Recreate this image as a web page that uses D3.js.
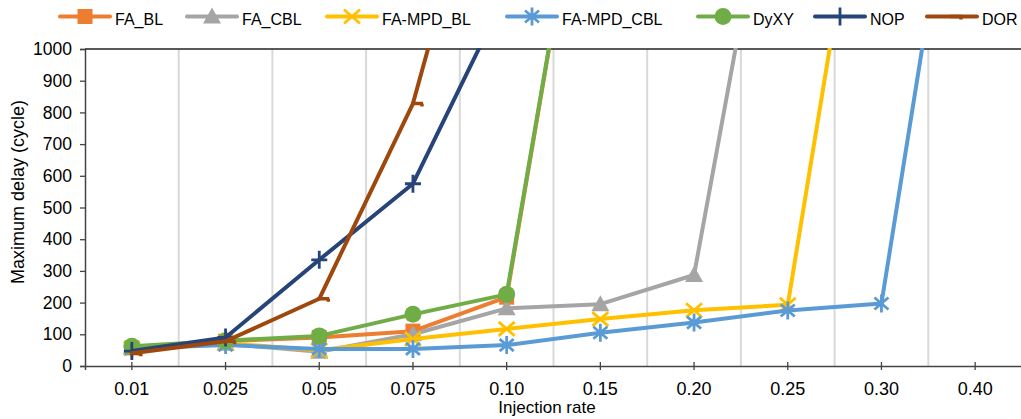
<!DOCTYPE html>
<html>
<head>
<meta charset="utf-8">
<script src="https://cdn.jsdelivr.net/npm/d3@7"></script>
<style>
body{margin:0;background:#fff;}
svg{font-family:"Liberation Sans",Arial,sans-serif;}
</style>
</head>
<body>
<svg id="chart" width="1021" height="419"></svg>
<script>
// categories on the x axis
var rates=["0.01","0.025","0.05","0.075","0.10","0.15","0.20","0.25","0.30","0.40"];
var yTicks=[0,100,200,300,400,500,600,700,800,900,1000];

// series values (null = no point)
var faBL=[57,78,90,110,217,1950,null,null,null,null];
var faCBL=[60,70,45,100,182,195,287,1900,null,null];
var faMpdBL=[55,72,50,85,117,148,176,193,2000,null];
var faMpdCBL=[55,66,54,54,66,105,137,175,197,2050];
var dyxy=[62,80,95,163,226,1950,null,null,null,null];
var nop=[47,90,335,575,1180,null,null,null,null,null];
var dor=[40,78,212,828,1900,null,null,null,null,null];

var series=[
	{name:"FA_BL",vals:faBL,color:"#ED7D31",mark:"square"},
	{name:"FA_CBL",vals:faCBL,color:"#A5A5A5",mark:"triangle"},
	{name:"FA-MPD_BL",vals:faMpdBL,color:"#FFC000",mark:"x"},
	{name:"FA-MPD_CBL",vals:faMpdCBL,color:"#5B9BD5",mark:"star"},
	{name:"DyXY",vals:dyxy,color:"#70AD47",mark:"circle"},
	{name:"NOP",vals:nop,color:"#264478",mark:"plus"},
	{name:"DOR",vals:dor,color:"#9E480E",mark:"dash"}
];
var legendX=[60,187,327,507,698,815,927];

var svg=d3.select("#chart");
var pLeft=85,pRight=1022,pTop=49,pBottom=366;

var x=d3.scaleBand().domain(rates).range([pLeft,pRight]);
var y=d3.scaleLinear().domain([0,1000]).range([pBottom,pTop]);
var cx=function(i){return x(rates[i])+x.bandwidth()/2;};

svg.append("defs").append("clipPath").attr("id","plotclip")
	.append("rect").attr("x",pLeft).attr("y",pTop-1).attr("width",pRight-pLeft).attr("height",pBottom-pTop+10);

// vertical gridlines between categories
svg.append("g").selectAll("line").data(rates.slice(1)).enter().append("line")
	.attr("x1",function(d){return x(d);}).attr("x2",function(d){return x(d);})
	.attr("y1",pTop).attr("y2",pBottom)
	.attr("stroke","#D9D9D9").attr("stroke-width",2);

// top border
svg.append("line").attr("x1",pLeft).attr("x2",pRight).attr("y1",pTop).attr("y2",pTop)
	.attr("stroke","#222").attr("stroke-width",1.3);

// y axis
var yAxis=svg.append("g").attr("transform","translate("+pLeft+",0)")
	.call(d3.axisLeft(y).tickValues(yTicks).tickFormat(d3.format("d")).tickSize(5).tickPadding(8));
yAxis.select(".domain").attr("stroke","#444").attr("stroke-width",1.5);
yAxis.selectAll(".tick line").attr("stroke","#444").attr("stroke-width",1.3);
yAxis.selectAll("text").attr("font-size","17.5px").attr("fill","#000").attr("font-family","Liberation Sans, Arial, sans-serif");

// x axis, ticks crossing the line at category centres
var xAxis=svg.append("g").attr("transform","translate(0,"+pBottom+")")
	.call(d3.axisBottom(x).tickSize(4).tickPadding(12));
xAxis.select(".domain").attr("stroke","#444").attr("stroke-width",1.5);
xAxis.selectAll(".tick line").attr("y1",-4).attr("y2",4).attr("stroke","#444").attr("stroke-width",1.3);
xAxis.selectAll("text").attr("font-size","18px").attr("fill","#000").attr("font-family","Liberation Sans, Arial, sans-serif");

// axis titles
svg.append("text").attr("x",547).attr("y",413).attr("text-anchor","middle")
	.attr("font-size","17px").text("Injection rate");
svg.append("text").attr("transform","translate(24,192) rotate(-90)").attr("text-anchor","middle")
	.attr("font-size","18px").text("Maximum delay (cycle)");

var drawMark=function(g,type,color,px,py)
{
	if(type=="square")g.append("rect").attr("x",px-7.5).attr("y",py-7.5).attr("width",15).attr("height",15).attr("fill",color);
	else if(type=="circle")g.append("circle").attr("cx",px).attr("cy",py).attr("r",8.5).attr("fill",color);
	else if(type=="triangle")g.append("path").attr("d","M"+px+","+(py-9)+"L"+(px+9)+","+(py+7)+"L"+(px-9)+","+(py+7)+"Z").attr("fill",color);
	else if(type=="x")g.append("path").attr("d","M"+(px-8)+","+(py-7)+"L"+(px+8)+","+(py+7)+"M"+(px+8)+","+(py-7)+"L"+(px-8)+","+(py+7))
		.attr("stroke",color).attr("stroke-width",2.8);
	else if(type=="star")g.append("path").attr("d","M"+(px-7)+","+(py-6)+"L"+(px+7)+","+(py+6)+"M"+(px+7)+","+(py-6)+"L"+(px-7)+","+(py+6)+"M"+px+","+(py-9)+"L"+px+","+(py+9))
		.attr("stroke",color).attr("stroke-width",2.8);
	else if(type=="plus")g.append("path").attr("d","M"+(px-8)+","+py+"L"+(px+8)+","+py+"M"+px+","+(py-9)+"L"+px+","+(py+9))
		.attr("stroke",color).attr("stroke-width",2.8);
	else if(type=="dash")g.append("path").attr("d","M"+(px-2)+","+(py)+"L"+(px+10)+","+py+"M"+(px+9)+","+(py)+"L"+(px+9)+","+(py+3))
		.attr("stroke",color).attr("stroke-width",3.5);
};

var plot=svg.append("g").attr("clip-path","url(#plotclip)");
var line=d3.line().defined(function(d){return d!=null;})
	.x(function(d,i){return cx(i);}).y(function(d){return y(d);});

series.forEach(function(s)
{
	var g=plot.append("g");
	g.append("path").datum(s.vals).attr("d",line)
		.attr("fill","none").attr("stroke",s.color).attr("stroke-width",4).attr("stroke-linejoin","round");
	s.vals.forEach(function(v,i){
		if(v!=null&&v<=1000)drawMark(g,s.mark,s.color,cx(i),y(v));
	});
});

// legend
var leg=svg.append("g");
series.forEach(function(s,i)
{
	var lx=legendX[i],ly=16.5;
	leg.append("line").attr("x1",lx).attr("x2",lx+50).attr("y1",ly).attr("y2",ly)
		.attr("stroke",s.color).attr("stroke-width",4).attr("stroke-linecap","round");
	drawMark(leg,s.mark,s.color,lx+25,ly);
	leg.append("text").attr("x",lx+55).attr("y",24.5).attr("font-size","16px").text(s.name);
});
</script>
</body>
</html>
